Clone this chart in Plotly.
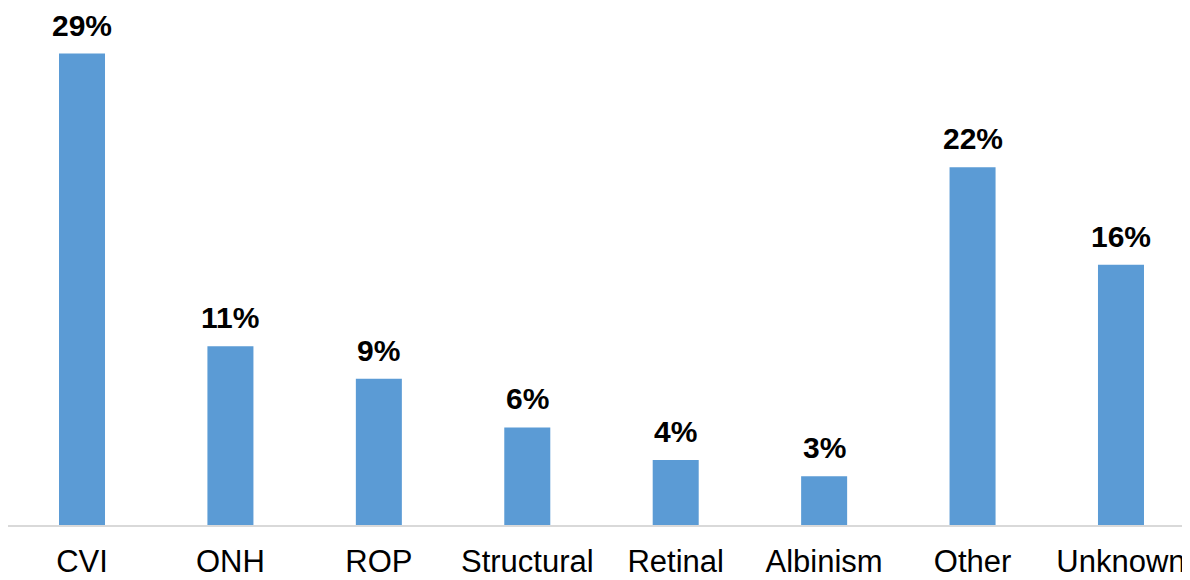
import plotly.graph_objects as go

categories = ["CVI", "ONH", "ROP", "Structural", "Retinal", "Albinism", "Other", "Unknown"]
percentages = [29, 11, 9, 6, 4, 3, 22, 16]
labels = [f"{p}%" for p in percentages]

FONT = 'Liberation Sans, Arial, sans-serif'

fig = go.Figure()

fig.add_trace(go.Bar(
    x=categories, y=percentages,
    marker=dict(color='#5B9BD5', line=dict(width=0)),
))

# value labels above the bars
for cat, val, lab in zip(categories, percentages, labels):
    fig.add_annotation(x=cat, y=val, text=f"<b>{lab}</b>", showarrow=False,
                       yanchor='bottom', yshift=10,
                       font=dict(family=FONT, size=30, color='black'))

# page body has an 8px margin, so the figure is sized to the visible area
fig.update_layout(
    width=1182, height=572,
    margin=dict(l=0, r=0, t=13, b=55),
    plot_bgcolor='white', paper_bgcolor='white',
    bargap=0.69,
    showlegend=False,
    font=dict(family=FONT, size=31, color='black'),
)
# last category runs slightly past the right edge, as in the original
fig.update_xaxes(range=[-0.4986, 7.465], showline=True, linecolor='#D9D9D9', linewidth=2,
                 ticks='', showgrid=False, automargin=False, ticklabelstandoff=8)
fig.update_yaxes(range=[0, 31], visible=False, showgrid=False, zeroline=False, automargin=False)

fig.write_html("out.html")
